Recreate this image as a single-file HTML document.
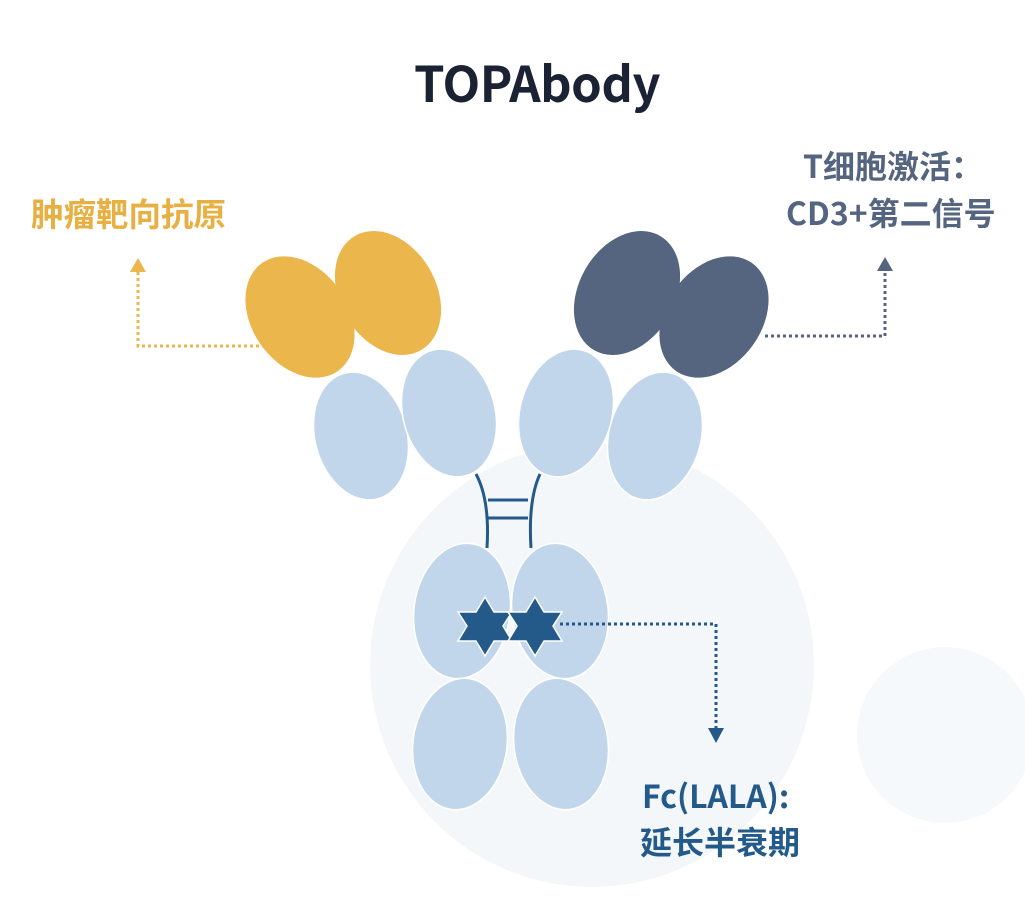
<!DOCTYPE html>
<html><head><meta charset="utf-8"><style>
body{margin:0;width:1025px;height:899px;background:#fff;overflow:hidden;position:relative;font-family:"Noto Sans CJK SC","Liberation Sans",sans-serif;}
.t{position:absolute;font-weight:bold;white-space:nowrap;line-height:1;}
</style></head><body>
<svg width="1025" height="899" style="position:absolute;left:0;top:0">
<circle cx="592" cy="665" r="222" fill="#f4f7fa"/>
<circle cx="945" cy="735" r="88" fill="#f6f9fb"/>
<g fill="#c2d6eb" stroke="#fff" stroke-width="1.5">
<ellipse cx="361" cy="436" rx="46" ry="65" transform="rotate(-15 361 436)"/>
<ellipse cx="449" cy="413" rx="46" ry="65" transform="rotate(-15 449 413)"/>
<ellipse cx="566" cy="413" rx="46" ry="65" transform="rotate(15 566 413)"/>
<ellipse cx="655" cy="436" rx="46" ry="65" transform="rotate(15 655 436)"/>
<ellipse cx="462" cy="611" rx="48" ry="68" transform="rotate(8 462 611)"/>
<ellipse cx="560" cy="611" rx="48" ry="68" transform="rotate(-8 560 611)"/>
<ellipse cx="460" cy="744" rx="47" ry="66" transform="rotate(8 460 744)"/>
<ellipse cx="561" cy="744" rx="47" ry="66" transform="rotate(-8 561 744)"/>
</g>
<g fill="#ebb74c">
<ellipse cx="388" cy="293" rx="48" ry="66" transform="rotate(-30 388 293)"/>
<ellipse cx="300" cy="317" rx="48" ry="66" transform="rotate(-35 300 317)"/>
</g>
<g fill="#56657f">
<ellipse cx="627" cy="293" rx="48" ry="66" transform="rotate(30 627 293)"/>
<ellipse cx="714" cy="317" rx="48" ry="66" transform="rotate(35 714 317)"/>
</g>
<g stroke="#245a8a" stroke-width="3" fill="none">
<path d="M476 474 Q490 500 487 548"/>
<path d="M540 474 Q528 500 531 548"/>
<line x1="488" y1="500" x2="528" y2="500"/>
<line x1="488" y1="518" x2="528" y2="518"/>
</g>
<g fill="#245a8a" stroke="#fff" stroke-width="1.5">
<polygon points="485,597 494,612 512,612 503,626 512,641 494,641 485,656 476,641 458,641 467,626 458,612 476,612"/>
<polygon points="535,597 544,612 562,612 553,626 562,641 544,641 535,656 526,641 508,641 517,626 508,612 526,612"/>
</g>
<g fill="none" stroke-width="3" stroke-dasharray="3 3">
<path d="M265 346 H138 V272" stroke="#ebb74c"/>
<path d="M765 336 H885 V272" stroke="#56657f"/>
<path d="M560 624 H716 V728" stroke="#245a8a"/>
</g>
<polygon points="130,272 146,272 138,258" fill="#ebb74c"/>
<polygon points="877,271 893,271 885,257" fill="#56657f"/>
<polygon points="708,728 724,728 716,743" fill="#245a8a"/>
</svg>
<div class="t" style="left:412px;width:250px;text-align:center;top:57px;font-size:49px;color:#1b2233;letter-spacing:-0.5px">TOPAbody</div>
<div class="t" style="left:31px;top:197px;font-size:32.5px;color:#e8b043">肿瘤靶向抗原</div>
<div class="t" style="left:803px;top:149px;font-size:32px;color:#56657f">T细胞激活：</div>
<div class="t" style="left:786px;top:196px;font-size:32px;color:#56657f">CD3+第二信号</div>
<div class="t" style="left:642px;top:779px;font-size:32px;color:#245a8a">Fc(LALA):</div>
<div class="t" style="left:640px;top:825px;font-size:32px;color:#245a8a">延长半衰期</div>
</body></html>
